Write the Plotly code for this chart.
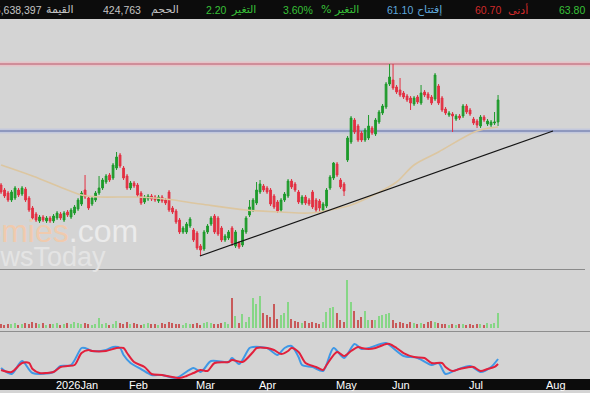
import plotly.graph_objects as go

W, H = 590, 393

# ---------------- data ----------------
opens = [54.8,54.3,54.0,53.3,53.5,54.3,53.9,54.4,53.5,52.5,
         51.9,51.2,51.6,51.2,51.5,51.2,51.5,51.9,51.3,52.1,
         51.6,52.0,52.4,52.9,54.3,53.5,52.9,53.3,54.0,54.5,
         55.1,55.8,55.5,56.5,57.8,56.5,55.7,54.5,55.0,54.8,
         54.0,53.1,53.4,53.7,53.6,53.2,53.6,53.3,54.1,52.5,
         52.2,51.3,50.1,50.1,50.7,50.3,50.0,48.7,48.4,50.1,
         50.9,51.7,51.5,50.5,49.3,49.5,50.5,48.7,49.0,48.8,
         50.1,51.8,52.3,53.0,54.1,54.7,54.5,54.3,53.7,53.1,
         52.3,53.3,53.7,55.2,54.9,54.1,53.0,53.6,53.3,54.1,
         53.3,53.2,52.3,52.7,54.5,55.5,56.9,55.3,54.9,57.3,
         59.1,61.3,60.7,60.0,59.3,59.5,60.5,59.9,61.1,62.0,
         62.6,64.9,65.3,64.6,64.3,64.0,63.7,63.5,62.9,63.6,
         63.0,64.1,63.9,63.6,63.4,64.7,63.5,62.4,61.8,61.9,
         61.4,61.7,61.7,62.7,62.3,61.4,61.2,60.7,61.6,60.9,
         60.8,61.0,61.1]
closes = [54.1,53.7,53.3,54.1,54.5,53.8,54.5,53.3,52.3,51.5,
          51.3,51.6,51.3,51.5,51.2,51.7,52.0,51.5,52.0,51.8,
          52.3,52.6,53.3,54.0,53.6,52.5,53.5,54.0,54.5,55.3,
          55.7,55.3,56.8,57.6,56.7,55.5,54.5,55.0,54.7,53.8,
          53.0,53.6,53.7,53.4,53.3,53.6,53.2,53.0,52.3,52.1,
          51.1,50.1,50.5,50.9,51.4,49.3,48.5,48.3,50.1,50.7,
          51.5,50.1,49.9,49.3,49.7,50.1,49.0,50.1,48.6,50.3,
          51.5,52.6,53.3,54.3,54.9,54.3,54.1,52.9,52.6,52.2,
          53.3,53.9,55.2,54.6,54.3,53.1,53.6,53.0,52.9,52.6,
          52.3,52.5,52.9,54.3,55.6,57.0,55.8,54.6,54.2,59.5,
          61.5,60.1,59.3,59.3,60.3,60.7,60.0,61.3,62.1,62.7,
          64.9,65.6,64.5,64.1,63.8,63.6,63.3,63.0,63.5,63.1,
          64.0,63.8,63.5,63.0,65.8,63.0,62.3,62.0,62.0,61.7,
          61.7,61.5,62.7,62.1,61.9,61.0,60.8,61.6,61.3,61.2,
          61.1,61.1,63.3]
highs = [55.0,54.5,54.2,54.3,54.7,54.5,54.7,54.6,53.7,52.7,
         52.1,51.8,51.8,51.7,51.7,51.9,52.2,52.1,52.2,52.3,
         52.5,52.8,53.5,54.2,55.8,53.7,53.7,54.2,55.7,55.5,
         55.9,56.0,57.0,58.1,58.0,56.7,55.9,55.2,55.2,55.0,
         54.2,53.8,53.9,53.9,53.8,53.8,53.8,53.5,54.3,52.7,
         52.4,51.5,50.7,51.1,51.6,50.5,50.2,48.9,50.3,50.9,
         51.7,51.9,51.7,50.7,49.9,50.3,50.7,50.3,49.2,50.5,
         51.7,53.3,53.5,55.1,55.3,54.9,54.7,54.5,53.9,53.3,
         53.5,54.1,55.4,55.4,55.1,54.3,53.8,53.8,53.5,54.3,
         53.5,53.4,53.1,54.5,55.8,57.1,57.1,55.5,55.1,59.7,
         61.7,61.5,60.9,60.2,60.5,61.8,60.7,61.5,62.3,62.9,
         65.1,66.9,66.9,64.8,65.5,64.2,63.9,63.7,63.7,63.8,
         64.8,64.3,64.1,63.8,66.0,64.9,63.7,62.6,62.2,62.1,
         61.9,61.9,62.9,62.9,62.5,61.6,61.4,61.8,61.8,61.4,
         61.3,62.1,63.8]
lows = [53.9,53.5,53.1,53.1,53.3,53.6,53.7,53.1,52.1,51.3,
        51.1,51.0,51.1,51.0,51.0,51.0,51.3,51.3,51.1,51.6,
        51.4,51.8,52.2,52.7,53.4,52.3,52.7,53.1,53.8,54.3,
        54.9,55.1,55.3,56.3,56.5,55.3,54.3,54.3,54.5,53.6,
        52.8,52.9,53.2,53.2,53.1,53.0,53.0,52.8,52.1,51.9,
        50.9,49.9,49.9,49.9,50.5,49.1,48.3,47.7,48.2,49.9,
        50.7,49.9,49.7,49.1,49.1,49.3,48.7,48.5,48.4,48.6,
        49.9,51.6,52.1,52.8,53.9,54.1,53.9,52.7,52.4,52.0,
        52.1,53.1,53.5,54.4,54.1,52.9,52.8,52.8,52.7,52.4,
        52.1,52.1,52.1,52.5,54.3,55.3,55.6,54.4,53.7,57.1,
        58.9,59.9,59.1,59.1,59.1,59.3,59.8,59.7,60.9,61.8,
        62.4,64.7,64.3,63.9,63.6,63.4,63.1,62.3,62.7,62.9,
        62.8,63.6,63.3,62.8,63.2,62.8,62.1,61.8,61.6,60.1,
        61.2,61.3,61.5,61.9,61.7,60.8,60.5,60.5,61.1,60.7,
        60.6,60.8,60.7]
volume_k = [113,85,113,113,142,85,113,142,113,170,142,113,142,85,113,
            113,142,85,113,142,113,170,142,113,142,113,85,113,
            283,
            113,142,85,113,198,
            142,113,170,113,142,113,85,113,142,113,113,85,142,113,170,142,
            113,113,85,142,113,113,142,85,142,170,142,113,113,142,170,113,
            849,340,142,396,170,311,849,679,906,425,368,311,679,255,368,425,736,255,198,
            170,142,198,142,170,142,113,170,
            453,566,594,425,226,170,1358,736,481,226,311,481,226,226,226,340,368,396,425,226,
            142,170,142,113,170,142,113,142,113,170,198,170,142,113,113,85,113,85,113,113,
            85,113,85,113,113,85,142,113,142,
            424.763]

ma_idx = [0, 9, 19, 23, 28, 38, 47, 57, 70, 80, 88, 94, 100, 107, 113, 118, 125, 136, 142]
ma_val = [56.8, 55.7, 54.3, 53.8, 53.6, 53.6, 53.4, 52.9, 52.3, 52.1, 52.0, 52.3, 52.8,
          53.9, 55.1, 56.8, 58.1, 60.2, 60.6]

stoch_k_idx = [0,3,6,9,15,17,20,23,24,26,30,32,34,35,37,40,43,46,50,55,57,58,60,65,66,68,
               71,72,76,79,81,83,85,86,89,92,95,98,101,103,105,110,112,115,119,123,125,127,
               130,134,137,140,142]
stoch_k = [23.9,10.9,39.1,13.0,15.2,28.3,30.4,67.4,67.4,60.9,63.0,69.6,67.4,52.2,34.8,21.7,
           8.7,8.7,2.2,23.9,15.2,21.7,39.1,37.0,45.7,32.6,67.4,69.6,67.4,52.2,67.4,71.7,47.8,
           30.4,26.1,17.4,67.4,45.7,76.1,65.2,67.4,78.3,67.4,50.0,45.7,30.4,34.8,10.9,19.6,
           28.3,15.2,26.1,43.5]
stoch_d_idx = [0,3,6,8,9,11,13,15,17,19,21,23,25,26,30,33,35,36,38,41,43,46,51,53,55,57,59,
               61,65,66,69,72,73,76,78,80,82,83,85,87,90,92,93,96,98,100,102,103,105,107,110,
               111,113,115,118,121,123,126,127,129,131,134,135,137,139,141,142]
stoch_d = [19.6,15.2,34.8,34.8,21.7,13.0,13.0,15.2,26.1,28.3,30.4,56.5,63.0,60.9,60.9,67.4,
           67.4,56.5,37.0,26.1,10.9,8.7,2.2,6.5,13.0,19.6,17.4,34.8,37.0,41.3,37.0,58.7,67.4,
           67.4,63.0,54.3,60.9,67.4,58.7,34.8,26.1,19.6,30.4,58.7,50.0,60.9,69.6,67.4,65.2,
           67.4,76.1,76.1,67.4,56.5,47.8,45.7,34.8,34.8,26.1,17.4,21.7,26.1,26.1,17.4,21.7,
           26.1,32.6]

resistance = 66.9
support = 60.2
trend_idx = [56.8, 157.7]
trend_val = [47.7, 60.2]

month_idx = [15, 36, 55, 73, 95, 111, 133, 155]
month_labels = ["2026Jan", "Feb", "Mar", "Apr", "May", "Jun", "Jul", "Aug"]

header_items = [  # text, center px, colour, font
    ("25,638,397", None, "#c4c4c4", "num"),
    ("القيمة", 60, "#c4c4c4", "ar"),
    ("424,763", 122, "#c4c4c4", "num"),
    ("الحجم", 165, "#c4c4c4", "ar"),
    ("2.20", 216, "#38c038", "num"),
    ("التغير", 243, "#38c038", "ar"),
    ("3.60%", 298, "#38c038", "num"),
    ("% التغير", 340, "#38c038", "ar"),
    ("61.10", 400, "#5fa8dc", "num"),
    ("إفتتاح", 430, "#5fa8dc", "ar"),
    ("60.70", 488, "#d02a2a", "num"),
    ("أدنى", 518, "#d02a2a", "ar"),
    ("63.80", 572, "#38c038", "num"),
]

# ---------------- figure ----------------
def py(px):
    return 1 - px / H

GREEN = "#1d9a2a"
RED = "#e33042"
BG = "#d4d4d4"

x = list(range(len(opens)))
fig = go.Figure()

fig.add_trace(go.Scatter(x=ma_idx, y=ma_val, mode="lines",
                         line=dict(color="#dcc6a0", width=1.6, shape="spline", smoothing=1.0),
                         hoverinfo="skip"))
fig.add_trace(go.Scatter(x=trend_idx, y=trend_val, mode="lines",
                         line=dict(color="#151515", width=1.2), hoverinfo="skip"))
fig.add_trace(go.Candlestick(x=x, open=opens, high=highs, low=lows, close=closes,
                             increasing=dict(line=dict(color=GREEN, width=1), fillcolor=GREEN),
                             decreasing=dict(line=dict(color=RED, width=1), fillcolor=RED),
                             whiskerwidth=0))

vcol = ["#86d686" if c >= o else "#c85a5a" for o, c in zip(opens, closes)]
fig.add_trace(go.Bar(x=x, y=volume_k, yaxis="y2", width=0.32,
                     marker=dict(color=vcol, line=dict(width=0))))

fig.add_trace(go.Scatter(x=stoch_k_idx, y=stoch_k, yaxis="y3", mode="lines",
                         line=dict(color="#3f98e6", width=2, shape="spline", smoothing=0.8)))
fig.add_trace(go.Scatter(x=stoch_d_idx, y=stoch_d, yaxis="y3", mode="lines",
                         line=dict(color="#e2203c", width=2, shape="spline", smoothing=0.8)))

shapes = []
# support / resistance bands
for lvl, band, core in [(resistance, "#e6c3c8", "#b8586a"), (support, "#c3c8dc", "#5a68a0")]:
    shapes.append(dict(type="line", xref="paper", x0=0, x1=1, yref="y", y0=lvl, y1=lvl,
                       line=dict(color=band, width=5), layer="below"))
    shapes.append(dict(type="line", xref="paper", x0=0, x1=1, yref="y", y0=lvl, y1=lvl,
                       line=dict(color=core, width=1), layer="below"))
# panel separators
shapes.append(dict(type="line", xref="paper", yref="paper", x0=0, x1=585 / W,
                   y0=py(269.5), y1=py(269.5), line=dict(color="#8a8a8a", width=1)))
shapes.append(dict(type="line", xref="paper", yref="paper", x0=0, x1=1,
                   y0=py(331.5), y1=py(331.5), line=dict(color="#8e8e8e", width=1)))
# header and footer bars
shapes.append(dict(type="rect", xref="paper", yref="paper", x0=0, x1=1, y0=py(19), y1=1,
                   fillcolor="#0c0c0c", line=dict(width=0), layer="above"))
shapes.append(dict(type="rect", xref="paper", yref="paper", x0=0, x1=1, y0=py(390), y1=py(379),
                   fillcolor="#0c0c0c", line=dict(width=0), layer="above"))

annotations = []
for text, cx, col, kind in header_items:
    fam = "DejaVu Sans" if kind == "ar" else "Liberation Sans, Arial"
    size = 11 if kind == "ar" else 10.5
    if cx is None:
        annotations.append(dict(text=text, xref="paper", yref="paper", x=44 / W, xanchor="right",
                                y=py(9.5), yanchor="middle", showarrow=False,
                                font=dict(family=fam, size=size, color=col)))
    else:
        annotations.append(dict(text=text, xref="paper", yref="paper", x=cx / W, xanchor="center",
                                y=py(9.5), yanchor="middle", showarrow=False,
                                font=dict(family=fam, size=size, color=col)))
for mi, ml in zip(month_idx, month_labels):
    annotations.append(dict(text=ml, xref="x", yref="paper", x=mi, xanchor="left",
                            y=py(384.5), yanchor="middle", showarrow=False,
                            font=dict(family="Liberation Sans, Arial", size=11, color="#ffffff")))
# watermark
annotations.append(dict(text='<span style="color:#f0caad">economies</span>'
                             '<span style="color:#ebebeb">.com</span>',
                        xref="paper", yref="paper", x=140 / W, xanchor="right",
                        y=py(231), yanchor="middle", showarrow=False,
                        font=dict(family="Liberation Sans, Arial", size=32)))
annotations.append(dict(text="NewsToday", xref="paper", yref="paper", x=108 / W, xanchor="right",
                        y=py(257), yanchor="middle", showarrow=False,
                        font=dict(family="Liberation Sans, Arial", size=27, color="#e4e4e4")))

fig.update_layout(
    width=W, height=H, margin=dict(l=0, r=0, t=0, b=0),
    paper_bgcolor=BG, plot_bgcolor=BG, showlegend=False,
    xaxis=dict(range=[-0.3, 168.27], visible=False, rangeslider=dict(visible=False)),
    yaxis=dict(domain=[py(269), py(20)], range=[46.4, 71.3], visible=False),
    yaxis2=dict(domain=[py(328), py(276)], range=[0, 1472], visible=False, anchor="x"),
    yaxis3=dict(domain=[py(379), py(333)], range=[0, 100], visible=False, anchor="x"),
    shapes=shapes, annotations=annotations, bargap=0,
)

fig.write_html("out.html")
